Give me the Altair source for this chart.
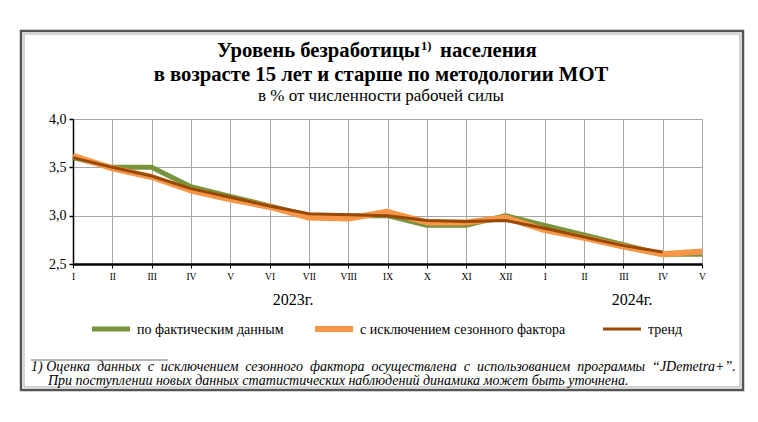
import altair as alt
import pandas as pd

FONT = "'Liberation Serif', 'Times New Roman', 'DejaVu Serif', serif"

months = ["I", "II", "III", "IV", "V", "VI", "VII", "VIII", "IX", "X", "XI", "XII",
          "I", "II", "III", "IV", "V"]
fact = [3.6, 3.5, 3.5, 3.3, 3.2, 3.1, 3.0, 3.0, 3.0, 2.9, 2.9, 3.0,
        2.9, 2.8, 2.7, 2.6, 2.6]
seasonal = [3.62, 3.49, 3.40, 3.26, 3.17, 3.09, 2.98, 2.97, 3.04, 2.93, 2.93, 2.98,
            2.85, 2.77, 2.68, 2.60, 2.63]
trend = [3.60, 3.50, 3.41, 3.28, 3.19, 3.10, 3.02, 3.01, 3.00, 2.95, 2.94, 2.95,
         2.87, 2.78, 2.69, 2.625, None]

series_names = ["по фактическим данным", "с исключением сезонного фактора", "тренд"]
series_colors = ["#77933C", "#F79646", "#984807"]
series_widths = [5, 6, 3]
series_values = [fact, seasonal, trend]

year_labels = ["2023г.", "2024г."]
title_lines = ["Уровень безработицы", "1)", "населения",
               "в возрасте 15 лет и старше по методологии МОТ",
               "в % от численности рабочей силы"]
foot_lines = ["1) Оценка\u00a0 данных\u00a0 с\u00a0 исключением\u00a0 сезонного\u00a0 фактора\u00a0 осуществлена\u00a0 с\u00a0 использованием\u00a0 программы\u00a0 “JDemetra+”.",
              "При поступлении новых данных статистических наблюдений динамика может быть уточнена."]

rows = []
for name, vals in zip(series_names, series_values):
    for i, v in enumerate(vals):
        if v is not None:
            rows.append({"idx": i, "series": name, "value": v})
df = pd.DataFrame(rows)

label_expr = "[" + ",".join(f"'{m}'" for m in months) + "][datum.value]"

x_enc = alt.X(
    "idx:Q",
    scale=alt.Scale(domain=[0, 16], nice=False, zero=False),
    axis=alt.Axis(values=list(range(17)), labelExpr=label_expr, title=None,
                  grid=True, gridColor="#A6A6A6", gridWidth=1,
                  domainColor="black", domainWidth=2.5,
                  tickColor="black", tickSize=4, tickWidth=1,
                  labelFont=FONT, labelFontSize=9.5, labelPadding=3,
                  labelColor="black", labelFlush=False),
)
y_enc = alt.Y(
    "value:Q",
    scale=alt.Scale(domain=[2.5, 4.0], nice=False, zero=False),
    axis=alt.Axis(values=[2.5, 3.0, 3.5, 4.0],
                  labelExpr="replace(format(datum.value, '.1f'), '.', ',')",
                  title=None, grid=True, gridColor="#A6A6A6", gridWidth=1,
                  domainColor="black", domainWidth=1.5,
                  tickColor="black", tickSize=4, tickWidth=1.5,
                  labelFont=FONT, labelFontSize=14, labelPadding=3,
                  labelColor="black"),
)

one = pd.DataFrame({"a": [0]})

frame_outer = alt.Chart(one).mark_rect(fillOpacity=0, stroke="#555555", strokeWidth=2.5).encode(
    x=alt.value(-52), x2=alt.value(670), y=alt.value(-88), y2=alt.value(271))
frame_inner = alt.Chart(one).mark_rect(fillOpacity=0, stroke="#AAAAAA", strokeWidth=1).encode(
    x=alt.value(-49), x2=alt.value(667), y=alt.value(-85), y2=alt.value(268))

line_layers = []
for name, color, w in zip(series_names, series_colors, series_widths):
    line_layers.append(
        alt.Chart(df).transform_filter(alt.datum.series == name)
        .mark_line(color=color, strokeWidth=w, strokeJoin="round")
        .encode(x=x_enc, y=y_enc)
    )

def txt(text, x, y, size, weight="normal", align="center", style="normal", baseline="alphabetic"):
    return alt.Chart(one).mark_text(
        text=text, font=FONT, fontSize=size, fontWeight=weight, align=align,
        fontStyle=style, baseline=baseline, color="black"
    ).encode(x=alt.value(x), y=alt.value(y))

texts = [
    txt(title_lines[0], 347, -62, 20.7, "bold", "right"),
    txt(title_lines[1], 348, -69, 12.5, "bold", "left"),
    txt(title_lines[2], 367, -62, 20.7, "bold", "left"),
    txt(title_lines[3], 308, -38, 20.7, "bold"),
    txt(title_lines[4], 308, -18, 17),
    txt(year_labels[0], 220, 186, 16),
    txt(year_labels[1], 559, 186, 16),
    txt(foot_lines[0], -42, 252, 14, align="left", style="italic"),
    txt(foot_lines[1], -25, 266, 14, align="left", style="italic"),
]

# legend
legend_layers = []
sw_x = [19, 242, 530]
for name, color, w, sx in zip(series_names, series_colors, series_widths, sw_x):
    legend_layers.append(
        alt.Chart(one).mark_rule(color=color, strokeWidth=w).encode(
            x=alt.value(sx), x2=alt.value(sx + 38), y=alt.value(210))
    )
    legend_layers.append(txt(name, sx + 45, 211, 14, align="left", baseline="middle"))

sep = alt.Chart(one).mark_rule(color="#444444", strokeWidth=0.8).encode(
    x=alt.value(-42), x2=alt.value(95), y=alt.value(241))

chart = alt.layer(
    frame_outer, frame_inner, *line_layers, *texts, *legend_layers, sep
).properties(
    width=629, height=145,
    autosize=alt.AutoSizeParams(type="none"),
    padding={"left": 73, "top": 119, "right": 56, "bottom": 158},
    background="white",
).configure_view(stroke=None)

chart.save("out.html", embed_options={"renderer": "svg", "actions": False})
